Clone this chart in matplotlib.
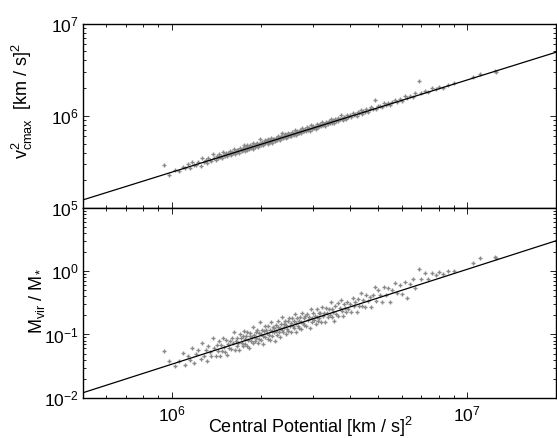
import numpy as np
import matplotlib
matplotlib.use("Agg")
import matplotlib.pyplot as plt
from matplotlib.ticker import LogLocator, NullFormatter, FixedLocator

plt.rcParams['font.family'] = ['Liberation Sans', 'DejaVu Sans']
plt.rcParams['mathtext.fontset'] = 'custom'
plt.rcParams['mathtext.rm'] = 'Liberation Sans'
plt.rcParams['mathtext.it'] = 'Liberation Sans:italic'
plt.rcParams['mathtext.bf'] = 'Liberation Sans:bold'

# ---- data (log10 values) ----
phi_log = [5.973, 5.989, 6.012, 6.025, 6.038, 6.046, 6.055, 6.062, 6.068, 6.075,
           6.083, 6.090, 6.097, 6.103, 6.108, 6.114, 6.119, 6.124, 6.129, 6.134,
           6.139, 6.144, 6.148, 6.152, 6.155, 6.159, 6.163, 6.166, 6.170, 6.174,
           6.177, 6.181, 6.184, 6.188, 6.191, 6.195, 6.198, 6.201, 6.204, 6.207,
           6.210, 6.213, 6.216, 6.219, 6.222, 6.225, 6.228, 6.231, 6.234, 6.237,
           6.240, 6.242, 6.245, 6.247, 6.249, 6.251, 6.254, 6.256, 6.259, 6.261,
           6.264, 6.266, 6.269, 6.271, 6.274, 6.276, 6.279, 6.281, 6.284, 6.286,
           6.289, 6.291, 6.294, 6.296, 6.298, 6.301, 6.303, 6.305, 6.308, 6.310,
           6.312, 6.315, 6.317, 6.319, 6.322, 6.324, 6.326, 6.329, 6.331, 6.333,
           6.336, 6.338, 6.340, 6.343, 6.345, 6.347, 6.349, 6.351, 6.353, 6.356,
           6.358, 6.360, 6.363, 6.365, 6.367, 6.370, 6.372, 6.374, 6.377, 6.379,
           6.381, 6.384, 6.386, 6.388, 6.391, 6.393, 6.395, 6.397, 6.399, 6.402,
           6.404, 6.407, 6.409, 6.412, 6.414, 6.417, 6.419, 6.422, 6.424, 6.427,
           6.429, 6.432, 6.434, 6.437, 6.439, 6.442, 6.444, 6.447, 6.449, 6.452,
           6.455, 6.458, 6.461, 6.464, 6.467, 6.470, 6.473, 6.476, 6.479, 6.482,
           6.485, 6.488, 6.491, 6.493, 6.495, 6.497, 6.499, 6.503, 6.506, 6.509,
           6.512, 6.516, 6.519, 6.522, 6.525, 6.528, 6.532, 6.535, 6.538, 6.541,
           6.544, 6.547, 6.549, 6.553, 6.557, 6.561, 6.564, 6.568, 6.572, 6.576,
           6.580, 6.583, 6.587, 6.591, 6.594, 6.598, 6.603, 6.608, 6.612, 6.617,
           6.621, 6.626, 6.630, 6.634, 6.639, 6.643, 6.647, 6.653, 6.659, 6.664,
           6.670, 6.675, 6.681, 6.688, 6.692, 6.698, 6.705, 6.712, 6.719, 6.726,
           6.733, 6.740, 6.747, 6.756, 6.764, 6.772, 6.780, 6.788, 6.796, 6.807,
           6.816, 6.824, 6.836, 6.844, 6.858, 6.869, 6.880, 6.893, 6.905, 6.918,
           6.934, 6.955, 7.021, 7.045, 7.093, 7.097]

vc2_log = [5.467, 5.353, 5.411, 5.399, 5.447, 5.435, 5.474, 5.431, 5.497, 5.469,
           5.462, 5.504, 5.461, 5.547, 5.497, 5.518, 5.488, 5.543, 5.523, 5.513,
           5.588, 5.543, 5.522, 5.561, 5.539, 5.583, 5.552, 5.565, 5.539, 5.608,
           5.571, 5.560, 5.598, 5.562, 5.595, 5.584, 5.617, 5.580, 5.613, 5.596,
           5.639, 5.582, 5.615, 5.633, 5.606, 5.629, 5.602, 5.650, 5.628, 5.616,
           5.649, 5.631, 5.684, 5.616, 5.648, 5.660, 5.633, 5.680, 5.648, 5.635,
           5.668, 5.680, 5.653, 5.670, 5.643, 5.710, 5.673, 5.660, 5.693, 5.675,
           5.708, 5.665, 5.693, 5.680, 5.747, 5.705, 5.682, 5.719, 5.697, 5.679,
           5.711, 5.739, 5.701, 5.728, 5.716, 5.698, 5.745, 5.718, 5.735, 5.712,
           5.765, 5.732, 5.709, 5.752, 5.734, 5.746, 5.723, 5.765, 5.742, 5.735,
           5.762, 5.784, 5.747, 5.764, 5.736, 5.779, 5.766, 5.813, 5.756, 5.783,
           5.770, 5.798, 5.760, 5.787, 5.775, 5.812, 5.784, 5.806, 5.778, 5.801,
           5.778, 5.826, 5.798, 5.816, 5.793, 5.846, 5.813, 5.791, 5.833, 5.816,
           5.828, 5.811, 5.848, 5.831, 5.813, 5.866, 5.833, 5.846, 5.833, 5.861,
           5.834, 5.877, 5.850, 5.868, 5.836, 5.904, 5.867, 5.855, 5.888, 5.871,
           5.884, 5.862, 5.910, 5.887, 5.879, 5.906, 5.888, 5.907, 5.885, 5.933,
           5.901, 5.915, 5.893, 5.936, 5.919, 5.907, 5.941, 5.924, 5.967, 5.925,
           5.943, 5.951, 5.918, 5.962, 5.946, 5.980, 5.943, 5.967, 6.006, 5.965,
           5.954, 5.992, 5.981, 5.970, 6.008, 5.987, 6.007, 5.987, 6.036, 6.006,
           6.020, 6.000, 6.039, 6.028, 6.068, 6.022, 6.051, 6.042, 6.073, 6.043,
           6.069, 6.094, 6.070, 6.174, 6.071, 6.107, 6.104, 6.096, 6.138, 6.115,
           6.142, 6.119, 6.151, 6.175, 6.153, 6.181, 6.159, 6.217, 6.190, 6.216,
           6.205, 6.243, 6.373, 6.243, 6.267, 6.258, 6.299, 6.292, 6.314, 6.307,
           6.338, 6.354, 6.427, 6.454, 6.482, 6.481]

mratio_log = [-1.266, -1.417, -1.502, -1.413, -1.293, -1.481, -1.338, -1.397, -1.218, -1.458,
              -1.316, -1.245, -1.385, -1.136, -1.348, -1.239, -1.412, -1.184, -1.277, -1.339,
              -1.062, -1.214, -1.338, -1.162, -1.258, -1.102, -1.336, -1.171, -1.265, -1.049,
              -1.195, -1.279, -1.094, -1.328, -1.154, -1.208, -1.103, -1.229, -1.054, -1.140,
              -0.965, -1.251, -1.106, -1.062, -1.177, -1.133, -1.248, -0.994, -1.059, -1.135,
              -1.020, -1.177, -0.953, -1.150, -1.067, -1.024, -1.179, -0.966, -1.082, -1.209,
              -1.024, -0.971, -1.097, -1.044, -1.139, -0.886, -1.012, -1.099, -0.964, -1.051,
              -0.927, -1.134, -0.969, -1.066, -0.803, -0.989, -1.086, -0.923, -1.028, -1.145,
              -0.952, -0.868, -1.045, -0.922, -0.977, -1.074, -0.871, -1.007, -0.934, -1.081,
              -0.806, -0.943, -1.020, -0.876, -0.963, -0.890, -1.107, -0.844, -0.941, -1.016,
              -0.883, -0.790, -0.966, -0.893, -1.040, -0.835, -0.932, -0.719, -0.965, -0.842,
              -0.889, -0.784, -0.991, -0.848, -0.914, -0.791, -0.948, -0.745, -0.872, -0.817,
              -0.954, -0.740, -0.867, -0.782, -0.899, -0.675, -0.822, -0.967, -0.744, -0.860,
              -0.787, -0.892, -0.719, -0.805, -0.912, -0.667, -0.824, -0.740, -0.847, -0.712,
              -0.868, -0.673, -0.779, -0.724, -0.890, -0.605, -0.741, -0.806, -0.662, -0.777,
              -0.703, -0.838, -0.604, -0.721, -0.788, -0.655, -0.742, -0.656, -0.801, -0.567,
              -0.712, -0.656, -0.802, -0.587, -0.663, -0.728, -0.592, -0.698, -0.483, -0.729,
              -0.604, -0.650, -0.787, -0.551, -0.675, -0.509, -0.704, -0.588, -0.462, -0.626,
              -0.710, -0.526, -0.580, -0.644, -0.479, -0.603, -0.516, -0.648, -0.422, -0.545,
              -0.479, -0.651, -0.435, -0.549, -0.352, -0.556, -0.460, -0.561, -0.372, -0.474,
              -0.405, -0.558, -0.369, -0.248, -0.472, -0.303, -0.383, -0.482, -0.252, -0.371,
              -0.271, -0.480, -0.300, -0.186, -0.344, -0.222, -0.360, -0.168, -0.416, -0.200,
              -0.116, -0.264, 0.034, -0.124, -0.023, -0.127, -0.030, -0.061, -0.013, -0.043,
              0.011, 0.003, 0.132, 0.208, 0.220, 0.206]

# fitted relations drawn in the figure: y = norm * x**slope
fit_top_norm, fit_top_slope = 0.245, 1.0
fit_bot_norm, fit_bot_slope = 3.39e-11, 1.5

xlim = (5e5, 2e7)

phi = 10 ** np.array(phi_log)
vc2 = 10 ** np.array(vc2_log)
mratio = 10 ** np.array(mratio_log)

fig = plt.figure(figsize=(5.57, 4.38), dpi=100)
L, R = 83 / 557, 556 / 557
ax1 = fig.add_axes([L, 1 - 208 / 438, R - L, (208 - 23.7) / 438])
ax2 = fig.add_axes([L, 1 - 397.7 / 438, R - L, (397.7 - 208) / 438], sharex=ax1)

xx = np.logspace(np.log10(xlim[0]), np.log10(xlim[1]), 50)
gray = '#8a8a8a'
for ax, y, norm, slope in [(ax1, vc2, fit_top_norm, fit_top_slope),
                           (ax2, mratio, fit_bot_norm, fit_bot_slope)]:
    ax.plot(phi, y, '+', color=gray, ms=3.3, mew=1.0, zorder=2)
    ax.plot(xx, norm * xx ** slope, '-', color='black', lw=0.9, zorder=3)
    ax.set_xscale('log')
    ax.set_yscale('log')
    ax.tick_params(which='both', direction='in', top=True, right=True,
                   labelsize=12.5, width=0.6, pad=3)
    ax.tick_params(which='major', length=4.5)
    ax.tick_params(which='minor', length=2.5)
    for s in ax.spines.values():
        s.set_linewidth(1.0)

ax1.set_xlim(*xlim)
ax1.set_ylim(1e5, 1e7)
ax2.set_ylim(1e-2, 1e1)
ax1.yaxis.set_major_locator(FixedLocator([1e5, 1e6, 1e7]))
ax2.yaxis.set_major_locator(FixedLocator([1e-2, 1e-1, 1e0, 1e1]))
ax2.set_yticklabels([r'$10^{-2}$', r'$10^{-1}$', r'$10^{0}$', ''])
ax1.tick_params(labelbottom=False)
for ax in (ax1, ax2):
    ax.yaxis.set_minor_locator(LogLocator(base=10, subs=np.arange(2, 10), numticks=20))
    ax.yaxis.set_minor_formatter(NullFormatter())
ax2.xaxis.set_major_locator(FixedLocator([1e6, 1e7]))
ax2.xaxis.set_minor_locator(LogLocator(base=10, subs=np.arange(2, 10), numticks=20))
ax2.xaxis.set_minor_formatter(NullFormatter())
ax2.tick_params(axis='x', pad=5)

fig.text(22 / 557, 1 - 101 / 438,
         r'$\mathrm{v}^2_{\mathrm{cmax}}$  [km / s]$^2$',
         rotation=90, ha='center', va='center', fontsize=13)
fig.text(37 / 557, 1 - 301 / 438,
         r'M$_{\mathrm{vir}}$ / M$_{*}$',
         rotation=90, ha='center', va='center', fontsize=13)
fig.text(310 / 557, 1 - 427 / 438,
         r'Central Potential [km / s]$^2$',
         ha='center', va='center', fontsize=13)

fig.savefig('out.png', dpi=100)
